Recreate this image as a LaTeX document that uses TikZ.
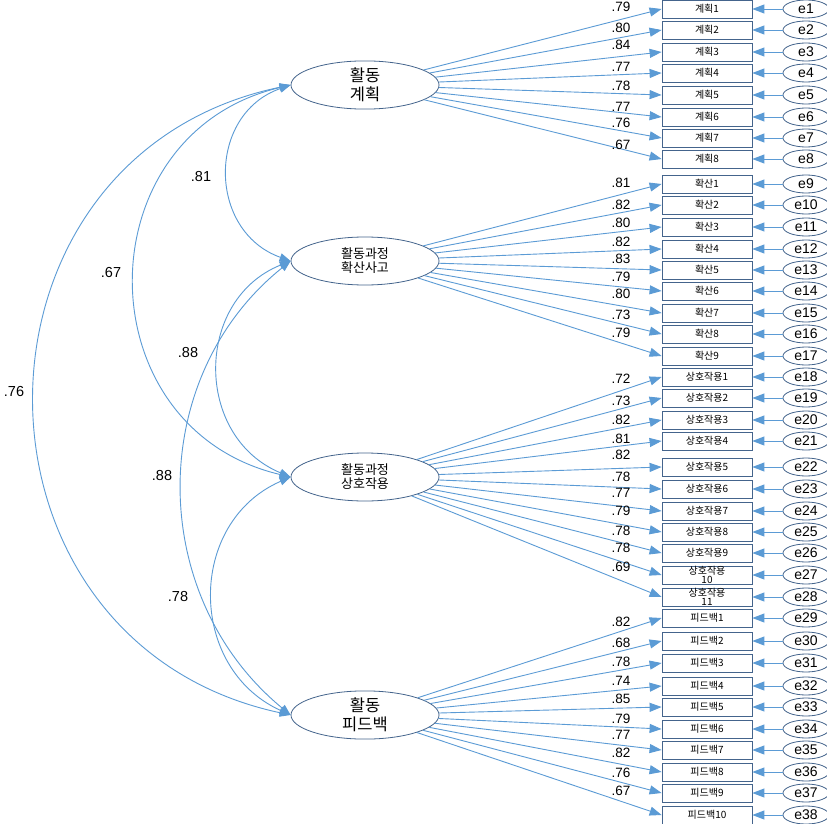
\documentclass[tikz,border=0pt]{standalone}
\usepackage{fontspec}
\setmainfont{Liberation Sans}
\newfontfamily\kr{Noto Sans CJK KR}
\usetikzlibrary{arrows.meta,shapes.geometric}
\definecolor{lineblue}{RGB}{91,155,213}
\definecolor{edgeblue}{RGB}{68,100,140}
\begin{document}
\begin{tikzpicture}[x=1pt,y=-1pt,
  latent/.style={ellipse,draw=edgeblue,line width=0.8pt,minimum width=148pt,minimum height=48pt,inner sep=0pt,align=center,font=\kr\fontsize{16.5}{19}\selectfont},
  latsmall/.style={latent,font=\kr\fontsize{13}{14}\selectfont},
  ind/.style={rectangle,draw=edgeblue,line width=0.8pt,minimum width=90pt,minimum height=18pt,inner sep=0pt,align=center,font=\kr\fontsize{10}{8.5}\selectfont},
  err/.style={ellipse,draw=edgeblue,line width=0.8pt,minimum width=46pt,minimum height=18pt,inner sep=0pt,font=\fontsize{14}{14}\selectfont},
  loadarrow/.style={draw=lineblue,line width=0.9pt,-{Triangle[length=12pt,width=9pt]}},
  errarrow/.style={draw=lineblue,line width=0.9pt,-{Triangle[length=12pt,width=9pt]}},
  covarrow/.style={draw=lineblue,line width=0.9pt,{Triangle[length=11pt,width=8pt]}-{Triangle[length=11pt,width=8pt]}},
  lbl/.style={inner sep=0pt,font=\fontsize{13.5}{13.5}\selectfont},
  clbl/.style={inner sep=0pt,font=\fontsize{14.5}{14.5}\selectfont}]
\fill[white] (0,0) rectangle (827,824);
\useasboundingbox (0,0) rectangle (827,824);

\node[latent] (F1) at (365,85) {활동\\계획};
\node[latsmall] (F2) at (365,261) {활동과정\\확산사고};
\node[latsmall] (F3) at (365,477) {활동과정\\상호작용};
\node[latent] (F4) at (365,715) {활동\\피드백};

\foreach \i/\y/\t/\l/\ly/\f in {
 1/9/계획1/.79/7/F1, 2/30/계획2/.80/28/F1, 3/52/계획3/.84/45/F1, 4/73/계획4/.77/67/F1,
 5/95/계획5/.78/86/F1, 6/117/계획6/.77/107/F1, 7/138/계획7/.76/123/F1, 8/159/계획8/.67/145/F1,
 9/184/확산1/.81/183/F2, 10/205/확산2/.82/205/F2, 11/227/확산3/.80/223/F2, 12/249/확산4/.82/242/F2,
 13/270/확산5/.83/259/F2, 14/291/확산6/.79/277/F2, 15/313/확산7/.80/294/F2, 16/334/확산8/.73/315/F2,
 17/356/확산9/.79/333/F2,
 18/377/상호작용1/.72/379/F3, 19/398/상호작용2/.73/401/F3, 20/420/상호작용3/.82/420/F3, 21/441/상호작용4/.81/439/F3,
 22/467/상호작용5/.82/455/F3, 23/489/상호작용6/.78/477/F3, 24/511/상호작용7/.77/493/F3, 25/532/상호작용8/.79/511/F3,
 26/553/상호작용9/.78/531/F3, 27/575/상호작용\\10/.78/548/F3, 28/597/상호작용\\11/.69/567/F3,
 29/618/피드백1/.82/622/F4, 30/641/피드백2/.68/643/F4, 31/663/피드백3/.78/662/F4, 32/686/피드백4/.74/681/F4,
 33/707/피드백5/.85/699/F4, 34/729/피드백6/.79/719/F4, 35/750/피드백7/.77/735/F4, 36/772/피드백8/.82/753/F4,
 37/793/피드백9/.76/773/F4, 38/815/피드백10/.67/791/F4}{
  \node[ind] (b\i) at (707,\y) {\t};
  \node[err] (e\i) at (806,\y) {e\i};
  \draw[errarrow] (e\i) -- (b\i);
  \draw[loadarrow] (\f) -- (b\i.west);
  \node[lbl] (l\i) at (621,\ly) {\l};
}

\draw[covarrow] (F1.west) .. controls (207,114) and (207,231) .. (F2.west);
\draw[covarrow] (F1.west) .. controls (83,134) and (83,428) .. (F3.west);
\draw[covarrow] (F1.west) .. controls (-50,156) and (-50,642) .. (F4.west);
\draw[covarrow] (F2.west) .. controls (194,300) and (194,437) .. (F3.west);
\draw[covarrow] (F2.west) .. controls (146,377) and (146,596) .. (F4.west);
\draw[covarrow] (F3.west) .. controls (187,522) and (187,668) .. (F4.west);

\node[clbl] (c12) at (201,177) {.81};
\node[clbl] (c13) at (111,273) {.67};
\node[clbl] (c14) at (14,392) {.76};
\node[clbl] (c23) at (188,353) {.88};
\node[clbl] (c24) at (162,476) {.88};
\node[clbl] (c34) at (178,597) {.78};
\end{tikzpicture}
\end{document}
